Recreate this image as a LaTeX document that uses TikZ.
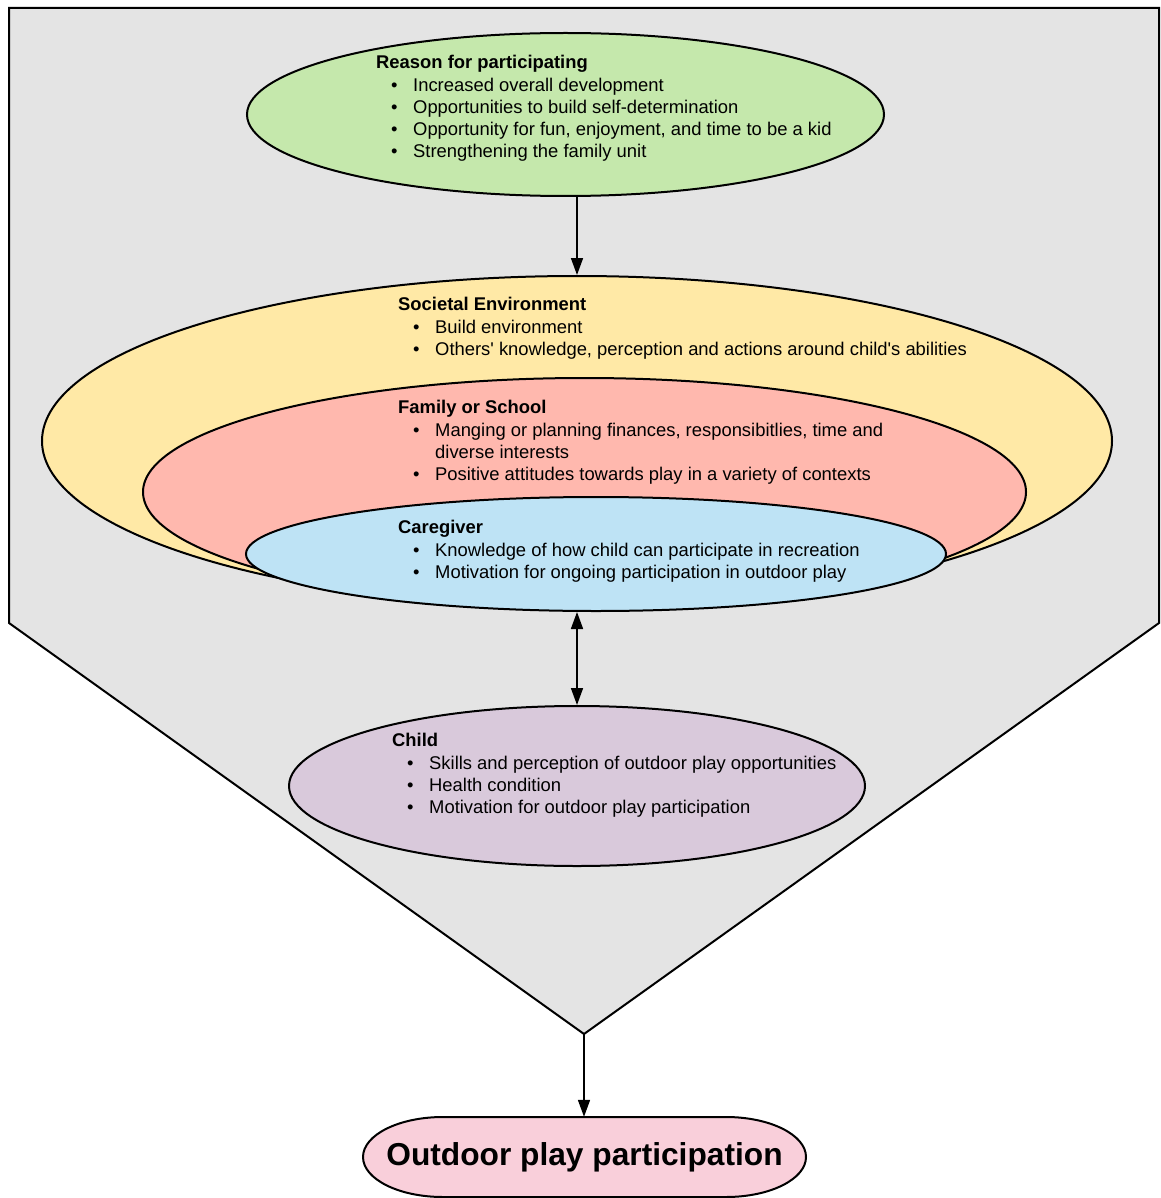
\documentclass[tikz,border=0pt]{standalone}
\usepackage{fontspec}
\setmainfont{Liberation Sans}
% same face without the TeX quote mapping, for straight apostrophes
\newfontfamily\straightq{Liberation Sans}
\usetikzlibrary{shapes.geometric,arrows.meta}

\definecolor{funnelgray}{HTML}{E4E4E4}
\definecolor{reasongreen}{HTML}{C5E8AC}
\definecolor{societyyellow}{HTML}{FFE9A6}
\definecolor{familysalmon}{HTML}{FFB8AE}
\definecolor{careblue}{HTML}{BEE3F5}
\definecolor{childlilac}{HTML}{D9C9DB}
\definecolor{outcomepink}{HTML}{F9CFDA}

% one bulleted line inside a block
\newcommand{\bitem}[1]{\hspace*{15pt}\makebox[22pt][l]{•}#1}
\newcommand{\bcont}[1]{\hspace*{37pt}#1}
\newcommand{\apos}{{\straightq'}}

\tikzset{
  outline/.style={draw=black, line width=2pt},
  ring/.style={outline, ellipse, inner sep=0pt},
  % anchored at the baseline of the last line
  blocktext/.style={anchor=base west, inner sep=0pt, align=left,
    font=\fontsize{18.4}{22.3}\selectfont},
  arr/.style={line width=1.7pt, -{Triangle[length=17pt,width=12pt]}},
  dblarr/.style={line width=1.7pt, {Triangle[length=17pt,width=12pt]}-{Triangle[length=17pt,width=12pt]}}
}

\begin{document}
\begin{tikzpicture}[x=1pt,y=-1pt]
\useasboundingbox (0,0) rectangle (1160,1198);

% funnel background
\coordinate (tl) at (9,8);
\coordinate (tr) at (1159,8);
\coordinate (rs) at (1159,623);
\coordinate (tip) at (584,1034);
\coordinate (ls) at (9,623);
\draw[outline, fill=funnelgray] (tl) -- (tr) -- (rs) -- (tip) -- (ls) -- cycle;

% nested ellipses
\node[ring, fill=reasongreen, minimum width=637pt, minimum height=163pt] (reason) at (565.5,114.5) {};
\node[ring, fill=societyyellow, minimum width=1070pt, minimum height=330pt] (society) at (577,441) {};
\node[ring, fill=familysalmon, minimum width=883pt, minimum height=228pt] (family) at (584.5,492) {};
\node[ring, fill=careblue, minimum width=700pt, minimum height=114pt] (care) at (596,554) {};
\node[ring, fill=childlilac, minimum width=576pt, minimum height=160pt] (child) at (577,786) {};

% outcome pill
\draw[outline, fill=outcomepink] (443,1117) -- (726,1117)
  arc[start angle=-90, end angle=90, x radius=80, y radius=40]
  -- (443,1197)
  arc[start angle=90, end angle=270, x radius=80, y radius=40] -- cycle;
\node[minimum width=443pt, minimum height=80pt, inner sep=0pt,
  font=\fontsize{31.7}{36}\selectfont\bfseries] (outcome) at (584.5,1157) {Outdoor play participation};

% block texts
\node[blocktext] (reasontext) at (376,158) {\textbf{Reason for participating}\\
  \bitem{Increased overall development}\\
  \bitem{Opportunities to build self-determination}\\
  \bitem{Opportunity for fun, enjoyment, and time to be a kid}\\
  \bitem{Strengthening the family unit}};

\node[blocktext] (societytext) at (398,355.4) {\textbf{Societal Environment}\\
  \bitem{Build environment}\\
  \bitem{Others\apos{} knowledge, perception and actions around child\apos{}s abilities}};

\node[blocktext] (familytext) at (398,480.7) {\textbf{Family or School}\\
  \bitem{Manging or planning finances, responsibitlies, time and}\\
  \bcont{diverse interests}\\
  \bitem{Positive attitudes towards play in a variety of contexts}};

\node[blocktext] (caretext) at (398,578.4) {\textbf{Caregiver}\\
  \bitem{Knowledge of how child can participate in recreation}\\
  \bitem{Motivation for ongoing participation in outdoor play}};

\node[blocktext] (childtext) at (392,813.7) {\textbf{Child}\\
  \bitem{Skills and perception of outdoor play opportunities}\\
  \bitem{Health condition}\\
  \bitem{Motivation for outdoor play participation}};

% connectors
\draw[arr] (reason.south -| society.north) -- (society.north);
\draw[dblarr] (care.south -| child.north) -- (child.north);
\draw[arr] (tip) -- (outcome.north -| tip);
\end{tikzpicture}
\end{document}
